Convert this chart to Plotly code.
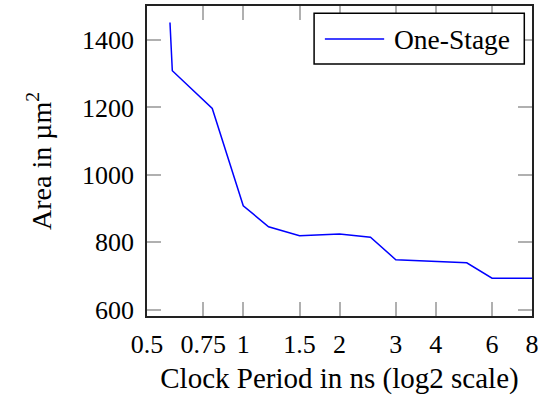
import math
import plotly.graph_objects as go

clock_period_ns = [0.59, 0.6, 0.8, 1.0, 1.2, 1.5, 2.0, 2.5, 3.0, 5.0, 6.0, 8.0]
area_um2 = [1452, 1309, 1197, 908, 846, 819, 824, 815, 748, 739, 693, 693]
series_name = "One-Stage"

x_tick_vals = [0.5, 0.75, 1, 1.5, 2, 3, 4, 6, 8]
x_tick_text = ["0.5", "0.75", "1", "1.5", "2", "3", "4", "6", "8"]
y_tick_vals = [600, 800, 1000, 1200, 1400]

FONT = "Liberation Serif, Times New Roman, serif"
FS = 26
LINE_COLOR = "#0000ff"

fig = go.Figure()
fig.add_trace(go.Scatter(
    x=clock_period_ns, y=area_um2, mode="lines", name=series_name,
    line=dict(color=LINE_COLOR, width=1.5), showlegend=False,
))

axis_common = dict(
    showline=True, linecolor="#222222", linewidth=1.5, mirror="ticks",
    ticks="inside", ticklen=14, tickcolor="#b0b0b0", tickwidth=1.5,
    showgrid=False, zeroline=False, automargin=False,
    tickfont=dict(family=FONT, size=FS, color="black"),
)

# legend box (drawn manually to match the reference's padding and sample length)
fig.add_shape(type="rect", xref="paper", yref="paper",
              x0=0.434, x1=0.980, y0=0.813, y1=0.9765,
              line=dict(color="black", width=1.5), fillcolor="white", layer="above")
fig.add_shape(type="line", xref="paper", yref="paper",
              x0=0.462, x1=0.616, y0=0.8935, y1=0.8935,
              line=dict(color=LINE_COLOR, width=1.5), layer="above")
fig.add_annotation(xref="paper", yref="paper", x=0.636, y=0.8935,
                   xanchor="left", yanchor="middle", showarrow=False,
                   text=series_name, font=dict(family=FONT, size=27.5, color="black"))

fig.update_layout(
    width=551, height=396,
    margin=dict(l=147, r=19, t=6, b=80, autoexpand=False),
    paper_bgcolor="white", plot_bgcolor="white",
    font=dict(family=FONT, size=FS, color="black"),
    xaxis=dict(
        type="log", range=[math.log10(0.5), math.log10(8)],
        tickvals=x_tick_vals, ticktext=x_tick_text, ticklabelstandoff=4,
        title=dict(text="Clock Period in ns (log2 scale)", font=dict(family=FONT, size=29), standoff=10),
        **axis_common,
    ),
    yaxis=dict(
        range=[581, 1501], tickvals=y_tick_vals, ticklabelstandoff=6,
        title=dict(text="Area in µm<sup>2</sup>", font=dict(family=FONT, size=28), standoff=22),
        **axis_common,
    ),
    showlegend=False,
)

fig.write_html("out.html", config={"displayModeBar": False},
               post_script="document.body.style.margin='0';document.body.style.overflow='hidden';")
